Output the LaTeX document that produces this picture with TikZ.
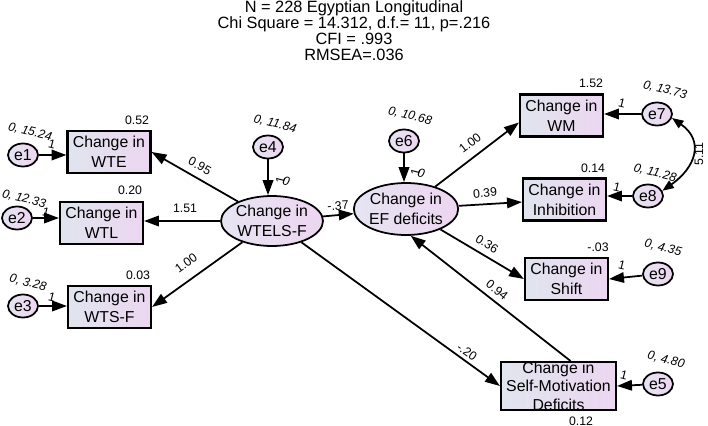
\documentclass[tikz,border=0pt]{standalone}
\usepackage{fontspec}
\setmainfont{Liberation Sans}
\usetikzlibrary{arrows.meta}
\usetikzlibrary{shapes.geometric}
\usetikzlibrary{calc}
\definecolor{boxleft}{RGB}{224,229,238}
\definecolor{boxright}{RGB}{236,214,241}
\definecolor{ovalleft}{RGB}{230,228,242}
\definecolor{ovalright}{RGB}{237,213,240}
\tikzset{obs/.style = {draw, line width=1.2pt, rectangle, inner sep=0pt,
                       minimum width=1.66cm, minimum height=0.84cm,
                       left color=boxleft, right color=boxright,
                       align=center, font=\fontsize{9}{11.3}\selectfont},
         lat/.style = {draw, line width=1pt, ellipse, inner sep=0pt,
                       minimum width=1.76cm, minimum height=1.0cm,
                       left color=ovalleft, right color=ovalright,
                       align=center, font=\fontsize{9}{11}\selectfont},
         err/.style = {draw, line width=1pt, ellipse, inner sep=0pt,
                       minimum width=0.6cm, minimum height=0.46cm,
                       left color=ovalleft, right color=ovalright,
                       font=\fontsize{9}{11}\selectfont},
         reg/.style = {line width=1pt, -{Triangle[length=8.5pt,width=6pt]}},
         coef/.style = {font=\fontsize{7}{8}\selectfont, inner sep=0pt},
         varlbl/.style = {font=\fontsize{7}{8}\selectfont\itshape, inner sep=0pt, rotate=-14}}

\begin{document}
\begin{tikzpicture}[x=0.02cm, y=-0.02cm]
    \useasboundingbox (0, 0) rectangle (708, 426);
    \node [align=center, font=\fontsize{9.3}{9.1}\selectfont] (title) at (354, 31)
        {N = 228 Egyptian Longitudinal\\Chi Square = 14.312, d.f.= 11, p=.216\\CFI = .993\\RMSEA=.036};

    % observed
    \node [obs] (wte) at (109, 152) {Change in\\WTE};
    \node [obs] (wtl) at (101.5, 223) {Change in\\WTL};
    \node [obs] (wtsf) at (109.5, 307) {Change in\\WTS-F};
    \node [obs] (wm) at (561.5, 115.5) {Change in\\WM};
    \node [obs] (inh) at (564.5, 199.5) {Change in\\Inhibition};
    \node [obs] (shift) at (566.5, 279) {Change in\\Shift};
    \node [obs, minimum width=2.3cm, minimum height=0.96cm] (sm) at (558.5, 386) {};
    \node [align=center, font=\fontsize{9}{10.5}\selectfont] (smtext) at (sm) {Change in\\Self-Motivation\\Deficits};

    % latent
    \node [lat] (wtels) at (272, 221) {Change in\\WTELS-F};
    \node [lat, minimum width=1.76cm, minimum height=1.04cm] (ef) at (406, 209) {Change in\\EF deficits};

    % errors
    \node [err] (e1) at (23, 155) {e1};
    \node [err] (e2) at (17, 218) {e2};
    \node [err] (e3) at (23, 306) {e3};
    \node [err] (e4) at (268, 147) {e4};
    \node [err] (e6) at (404, 141) {e6};
    \node [err] (e7) at (657, 114) {e7};
    \node [err] (e8) at (648, 196) {e8};
    \node [err] (e9) at (658, 274) {e9};
    \node [err] (e5) at (658, 384) {e5};

    \draw [reg] (e1) -- (e1 -| wte.west);
    \draw [reg] (e2) -- (e2 -| wtl.west);
    \draw [reg] (e3) -- (e3 -| wtsf.west);
    \draw [reg] (e4) -- (e4 |- wtels.north);
    \draw [reg] (e6) -- (e6 |- ef.north);
    \draw [reg] (wtels) -- (wte.east);
    \draw [reg] (wtels) -- (wtels -| wtl.east);
    \draw [reg] (wtels) -- (wtsf.east);
    \draw [reg] (wtels) -- (ef);
    \draw [reg] (wtels) -- (sm.west);
    \draw [reg] (ef) -- ($(wm.west) + (0, 7)$);
    \draw [reg] (ef) -- (inh);
    \draw [reg] (ef) -- (shift.west);
    \draw [reg] ($(sm.north) + (12, 0)$) -- (ef.-80);
    \draw [reg] (e7) -- (e7 -| wm.east);
    \draw [reg] (e8) -- (e8 -| inh.east);
    \draw [reg] (e9) -- (shift.east);
    \draw [reg] (e5) -- (sm.east);
    \draw [line width=1pt, {Triangle[length=6.5pt,width=5pt]}-{Triangle[length=6.5pt,width=5pt]}]
        (e7.-15) to [out=-35, in=35, looseness=1.4] (e8.20);

    % estimates
    \node [coef] at (137, 120) {0.52};
    \node [coef] at (130, 190) {0.20};
    \node [coef] at (138, 275) {0.03};
    \node [coef] at (591, 83) {1.52};
    \node [coef] at (593, 168) {0.14};
    \node [coef] at (598, 247) {-.03};
    \node [coef] at (581, 421) {0.12};
    \node [varlbl] at (30, 132) {0, 15.24};
    \node [varlbl] at (24, 199) {0, 12.33};
    \node [varlbl] at (28, 283) {0, 3.28};
    \node [varlbl] at (275, 124) {0, 11.84};
    \node [varlbl] at (410, 116) {0, 10.68};
    \node [varlbl] at (665, 90) {0, 13.73};
    \node [varlbl] at (655, 173) {0, 11.28};
    \node [varlbl] at (663, 248) {0, 4.35};
    \node [varlbl] at (666, 360) {0, 4.80};
    \foreach \px/\py in {52/144, 46/212, 52/297, 622/103, 617/187, 622/265, 624/375}
        \node [coef, rotate=-14] at (\px, \py) {1};
    \node [coef, rotate=-14] at (283, 180) {\rotatebox{90}{1}\kern-1pt\textit{0}};
    \node [coef, rotate=-14] at (418, 172) {\rotatebox{90}{1}\kern-1pt\textit{0}};
    \node [coef, rotate=-29] at (200, 166) {0.95};
    \node [coef] at (185, 208) {1.51};
    \node [coef, rotate=36] at (186, 263) {1.00};
    \node [coef, rotate=4] at (338, 206) {-.37};
    \node [coef, rotate=38] at (470, 143) {1.00};
    \node [coef, rotate=6] at (485, 193) {0.39};
    \node [coef, rotate=-32] at (487, 244) {0.36};
    \node [coef, rotate=-39] at (497, 290) {0.94};
    \node [coef, rotate=-35] at (467, 352) {-.20};
    \node [coef, rotate=90] at (699, 154) {5.11};
\end{tikzpicture}
\end{document}
